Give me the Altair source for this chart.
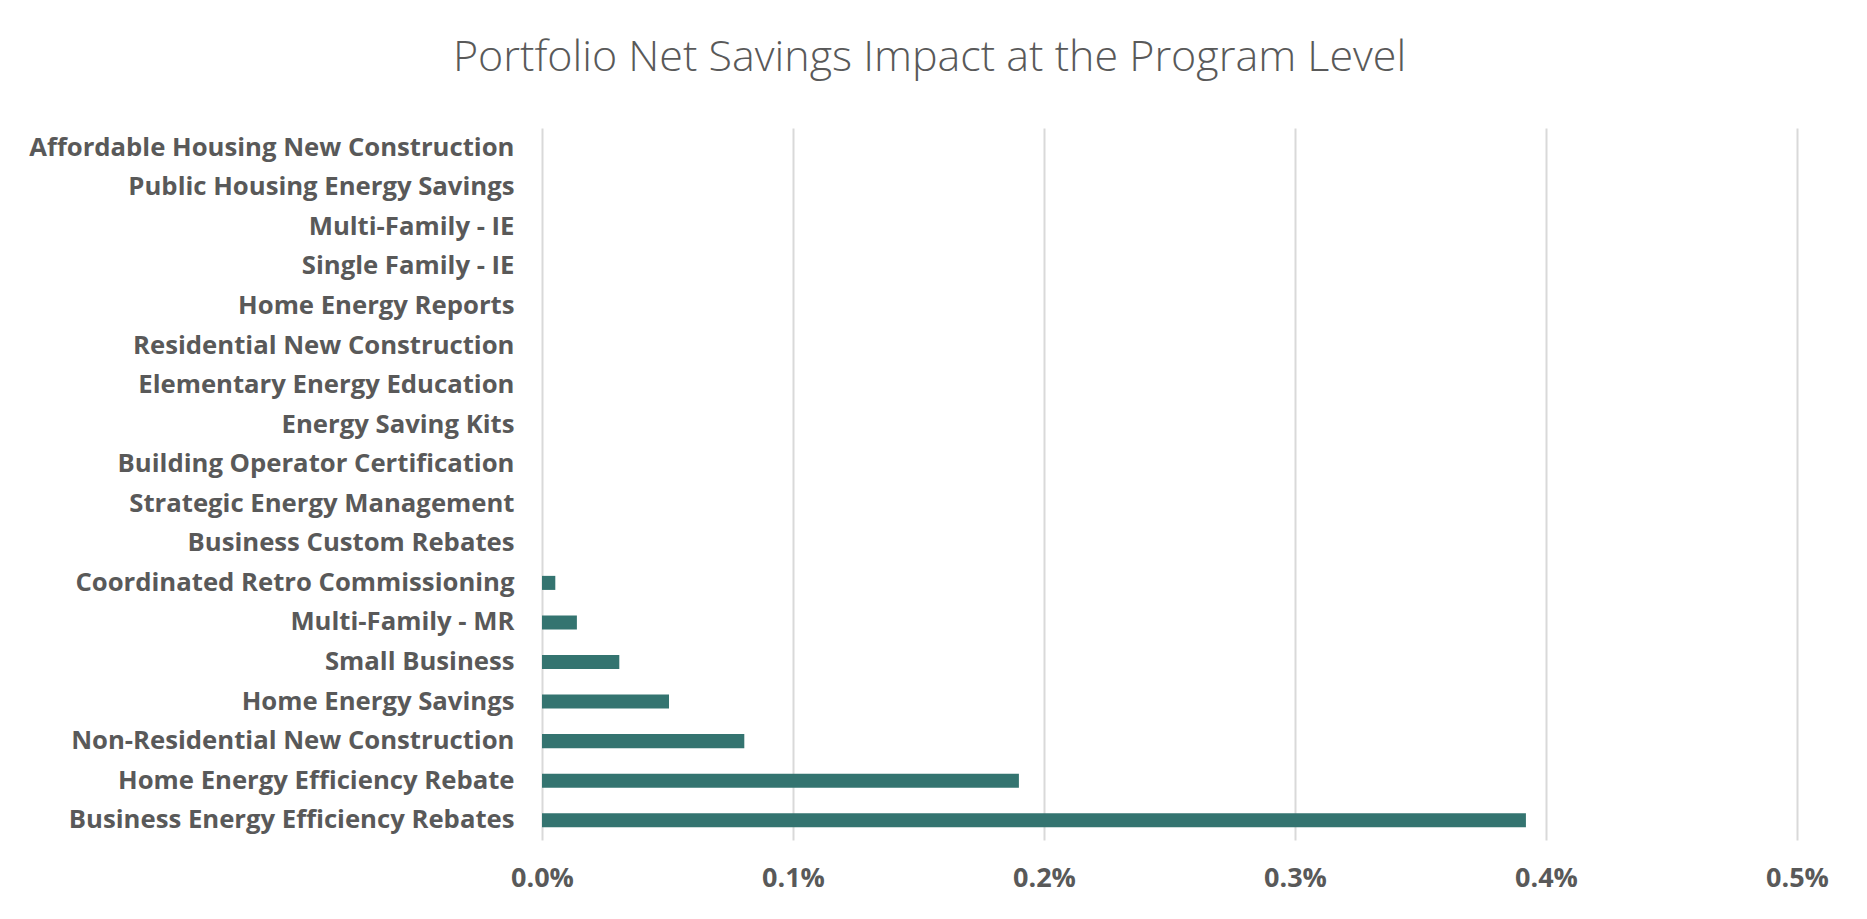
import altair as alt
import pandas as pd

programs = [
    "Affordable Housing New Construction\u00a0",
    "Public Housing Energy Savings",
    "Multi-Family - IE",
    "Single Family - IE",
    "Home Energy Reports",
    "Residential New Construction",
    "Elementary Energy Education",
    "Energy Saving Kits",
    "Building Operator Certification",
    "Strategic Energy Management\u00a0",
    "Business Custom Rebates",
    "Coordinated Retro Commissioning",
    "Multi-Family - MR",
    "Small Business\u00a0",
    "Home Energy Savings",
    "Non-Residential New Construction",
    "Home Energy Efficiency Rebate",
    "Business Energy Efficiency Rebates",
]
impact = [
    0.0, 0.0, 0.0, 0.0, 0.0, 0.0, 0.0, 0.0, 0.0, 0.0, 0.0,
    0.000053, 0.000139, 0.000308, 0.000506, 0.000806, 0.00190, 0.00392,
]
x_ticks = [0.0, 0.001, 0.002, 0.003, 0.004, 0.005]

df = pd.DataFrame({"Program": programs, "Impact": impact})

TEXT = "#595959"
GRID = "#d9d9d9"

chart = (
    alt.Chart(df)
    .mark_bar(color="#347470")
    .encode(
        x=alt.X(
            "Impact:Q",
            scale=alt.Scale(domain=[0, 0.005], nice=False, zero=True),
            axis=alt.Axis(
                values=x_ticks,
                format=".1%",
                title=None,
                domain=False,
                ticks=False,
                tickSize=0,
                grid=True,
                gridColor=GRID,
                gridWidth=2,
                labelFont="Open Sans",
                labelFontWeight="bold",
                labelFontSize=27,
                labelColor=TEXT,
                labelPadding=25,
                labelBaseline="top",
                labelFlush=False,
                labelOverlap=False,
            ),
        ),
        y=alt.Y(
            "Program:N",
            sort=programs,
            scale=alt.Scale(paddingInner=0.645, paddingOuter=0.3225),
            axis=alt.Axis(
                title=None,
                domain=False,
                ticks=False,
                tickSize=0,
                grid=False,
                labelFont="Open Sans",
                labelFontWeight="bold",
                labelFontSize=25.7,
                labelColor=TEXT,
                labelPadding=28,
                labelLimit=0,
            ),
        ),
    )
    .properties(
        width=1255,
        height=712,
        title=alt.TitleParams(
            "Portfolio Net Savings Impact at the Program Level",
            font="Open Sans",
            fontSize=43,
            fontWeight=300,
            color=TEXT,
            anchor="middle",
            baseline="alphabetic",
            offset=14,
            dx=-240,
        ),
        autosize=alt.AutoSizeParams(type="none"),
        padding={"left": 534, "top": 120, "right": 62, "bottom": 71},
    )
    .configure(background="white")
    .configure_view(strokeWidth=0, stroke="transparent")
)

chart.save("out.html", embed_options={"renderer": "svg", "actions": False})
